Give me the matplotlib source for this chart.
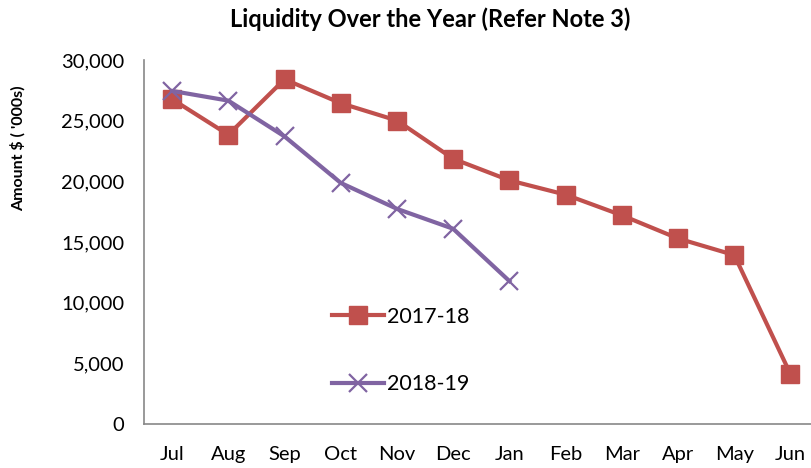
import numpy as np
import matplotlib.pyplot as plt
from matplotlib.ticker import FuncFormatter

plt.rcParams['font.family'] = ['Lato', 'DejaVu Sans']

months = ["Jul", "Aug", "Sep", "Oct", "Nov", "Dec", "Jan", "Feb", "Mar", "Apr", "May", "Jun"]
fy1718 = [26770, 23840, 28410, 26440, 25010, 21860, 20080, 18900, 17200, 15290, 13920, 4110]
fy1819 = [27450, 26650, 23700, 19870, 17730, 16090, 11780]

red = "#C0504D"
purple = "#8064A2"

fig = plt.figure(figsize=(8.11, 4.68), dpi=100)
ax = fig.add_axes([144/811, 44/468, 674.6/811, 364/468])

x = np.arange(len(months))
ax.plot(x, fy1718, color=red, lw=3, marker="s", ms=13.5, label="2017-18")
ax.plot(x[:len(fy1819)], fy1819, color=purple, lw=3, marker="x", ms=13, mew=1.6, label="2018-19")

ax.set_xlim(-0.5, 11.5)
ax.set_ylim(0, 30000)
ax.set_yticks(np.arange(0, 30001, 5000))
ax.yaxis.set_major_formatter(FuncFormatter(lambda v, p: f"{int(v):,}"))
ax.set_xticks(x)
ax.set_xticklabels(months)
ax.tick_params(length=0, labelsize=14.5, pad=14)
ax.tick_params(axis="x", pad=16)

for s in ["top", "right"]:
    ax.spines[s].set_visible(False)
for s in ["left", "bottom"]:
    ax.spines[s].set_color("#878787")
    ax.spines[s].set_linewidth(1.2)

ax.set_ylabel("Amount $ ( '000s)", fontsize=11.5, fontweight="bold")
ax.yaxis.set_label_coords(-0.176, 0.758)
fig.suptitle("Liquidity Over the Year (Refer Note 3)", fontsize=17, fontweight="bold", x=0.53, y=0.985)

leg = ax.legend(loc="upper left", bbox_to_anchor=(0.25, 0.375), frameon=False,
                fontsize=15.5, labelspacing=2.2, handlelength=2.4, handletextpad=0.15)

fig.savefig("out.png", dpi=100)
